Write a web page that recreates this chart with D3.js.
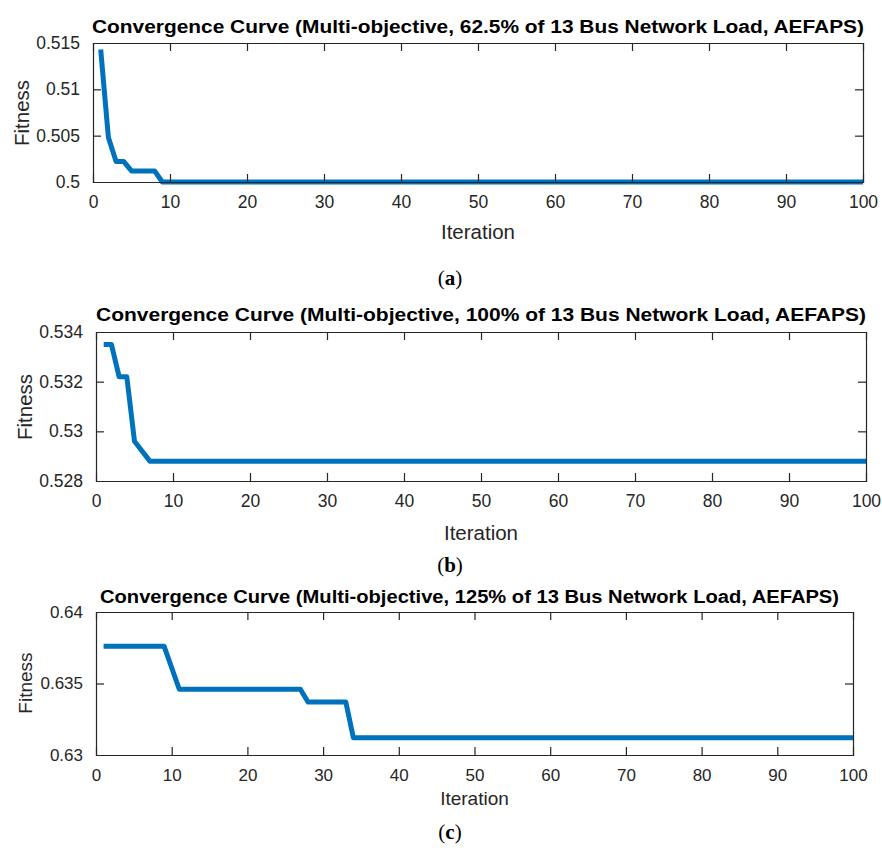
<!DOCTYPE html>
<html lang="en">
<head>
    <meta charset="UTF-8">
    <title>Convergence Curves</title>
    <script src="https://d3js.org/d3.v7.min.js"></script>
    <style>
        body {
          margin: 0;
          background: #ffffff;
        }
        .tick text {
          font-family: "Liberation Sans", Arial, sans-serif;
          fill: #262626;
        }
        .axis-label {
          font-family: "Liberation Sans", Arial, sans-serif;
          fill: #262626;
        }
        .title {
          font-family: "Liberation Sans", Arial, sans-serif;
          font-weight: bold;
          fill: #000;
        }
        .caption {
          font-family: "Liberation Serif", "DejaVu Serif", serif;
          fill: #000;
        }
    </style>
</head>
<body>
<div id="chart"></div>

<script>
    // values: only the points where the curve changes
    const titles = [
      "Convergence Curve (Multi-objective, 62.5% of 13 Bus Network Load, AEFAPS)",
      "Convergence Curve (Multi-objective, 100% of 13 Bus Network Load, AEFAPS)",
      "Convergence Curve (Multi-objective, 125% of 13 Bus Network Load, AEFAPS)"
    ];
    const captions = ["a", "b", "c"];

    const itersA = [1, 2, 3, 4, 5, 8, 9, 100];
    const fitA = [0.5143, 0.5048, 0.5022, 0.5022, 0.5012, 0.5012, 0.5, 0.5];

    const itersB = [1, 2, 3, 4, 5, 6, 7, 100];
    const fitB = [0.5335, 0.5335, 0.5322, 0.5322, 0.5296, 0.5292, 0.5288, 0.5288];

    const itersC = [1, 9, 10, 11, 27, 28, 33, 34, 100];
    const fitC = [0.6376, 0.6376, 0.6361, 0.6346, 0.6346, 0.6337, 0.6337, 0.6312, 0.6312];

    const xTicks = [0, 10, 20, 30, 40, 50, 60, 70, 80, 90, 100];
    const yTicksA = [0.5, 0.505, 0.51, 0.515];
    const yTicksB = [0.528, 0.53, 0.532, 0.534];
    const yTicksC = [0.63, 0.635, 0.64];

    const yDomA = [0.5, 0.515];
    const yDomB = [0.528, 0.534];
    const yDomC = [0.63, 0.64];

    // layout of each panel in pixels
    const panels = [
      {iters: itersA, fit: fitA, yTicks: yTicksA, yDom: yDomA, yFmt: d3.format(""),
       box: {left: 93, right: 863, top: 43, bottom: 182},
       titleY: 27, titleW: 772, fs: 17.5, labelFs: 20.5, fitY: 113, fitX: 22, iterY: 232, capY: 278},
      {iters: itersB, fit: fitB, yTicks: yTicksB, yDom: yDomB, yFmt: d3.format(""),
       box: {left: 96, right: 866, top: 332, bottom: 481},
       titleY: 315, titleW: 770, fs: 17.5, labelFs: 20.5, fitY: 407, fitX: 25, iterY: 533, capY: 565},
      {iters: itersC, fit: fitC, yTicks: yTicksC, yDom: yDomC, yFmt: d3.format(""),
       box: {left: 96, right: 853, top: 612, bottom: 755},
       titleY: 597, titleW: 739, titleX: 469.5, fs: 17, labelFs: 19, fitY: 683, fitX: 25, iterY: 798, capY: 832}
    ];

    const width = 882, height = 851;
    const svg = d3.select("#chart").append("svg")
      .attr("width", width)
      .attr("height", height);

    panels.forEach((p, i) => {
      const b = p.box;
      const x = d3.scaleLinear().domain([0, 100]).range([b.left, b.right]);
      const y = d3.scaleLinear().domain(p.yDom).range([b.bottom, b.top]);
      const g = svg.append("g");

      // plot area
      g.append("rect")
        .attr("x", b.left).attr("y", b.top)
        .attr("width", b.right - b.left).attr("height", b.bottom - b.top)
        .attr("fill", "#fff");

      // curve
      const pts = p.iters.map((it, k) => [it, p.fit[k]]);
      g.append("path")
        .datum(pts)
        .attr("fill", "none")
        .attr("stroke", "#0072BD")
        .attr("stroke-width", 5)
        .attr("stroke-linejoin", "round")
        .attr("d", d3.line().x(d => x(d[0])).y(d => y(d[1])));

      // axes (ticks point inward like matlab)
      const tk = 8;
      const axB = g.append("g").attr("transform", `translate(0,${b.bottom})`)
        .call(d3.axisBottom(x).tickValues(xTicks).tickSize(-tk).tickPadding(tk + 6).tickFormat(d3.format("d")));
      const axT = g.append("g").attr("transform", `translate(0,${b.top})`)
        .call(d3.axisTop(x).tickValues(xTicks).tickSize(-tk).tickFormat(""));
      const axL = g.append("g").attr("transform", `translate(${b.left},0)`)
        .call(d3.axisLeft(y).tickValues(p.yTicks).tickSize(-tk).tickPadding(tk + 5).tickFormat(p.yFmt));
      const axR = g.append("g").attr("transform", `translate(${b.right},0)`)
        .call(d3.axisRight(y).tickValues(p.yTicks).tickSize(-tk).tickFormat(""));

      [axB, axT, axL, axR].forEach(a => {
        a.select(".domain").attr("stroke", "#262626").attr("stroke-width", 1.2);
        a.selectAll(".tick line").attr("stroke", "#262626").attr("stroke-width", 1.2);
        a.selectAll(".tick text").style("font-size", p.fs + "px");
      });
      // keep edge ticks off the box corners
      [axB, axT].forEach(a => a.selectAll(".tick line").filter(d => d === 0 || d === 100).remove());
      [axL, axR].forEach(a => a.selectAll(".tick line").filter(d => d === p.yDom[0] || d === p.yDom[1]).remove());

      // title
      const tx = p.titleX || (b.left + b.right) / 2;
      g.append("text")
        .attr("class", "title")
        .attr("x", tx).attr("y", p.titleY)
        .attr("dy", "0.35em")
        .attr("text-anchor", "middle")
        .attr("textLength", p.titleW)
        .attr("lengthAdjust", "spacingAndGlyphs")
        .style("font-size", "18px")
        .text(titles[i]);

      // axis labels
      g.append("text")
        .attr("class", "axis-label")
        .attr("x", (b.left + b.right) / 2).attr("y", p.iterY)
        .attr("dy", "0.35em")
        .attr("text-anchor", "middle")
        .style("font-size", p.labelFs + "px")
        .text("Iteration");

      g.append("text")
        .attr("class", "axis-label")
        .attr("transform", `translate(${p.fitX},${p.fitY}) rotate(-90)`)
        .attr("dy", "0.35em")
        .attr("text-anchor", "middle")
        .style("font-size", p.labelFs + "px")
        .text("Fitness");

      // sub-figure caption
      const cap = g.append("text")
        .attr("class", "caption")
        .attr("x", 450).attr("y", p.capY)
        .attr("dy", "0.35em")
        .attr("text-anchor", "middle")
        .style("font-size", "21px");
      cap.append("tspan").text("(");
      cap.append("tspan").attr("font-weight", "bold").text(captions[i]);
      cap.append("tspan").text(")");
    });
</script>
</body>
</html>
